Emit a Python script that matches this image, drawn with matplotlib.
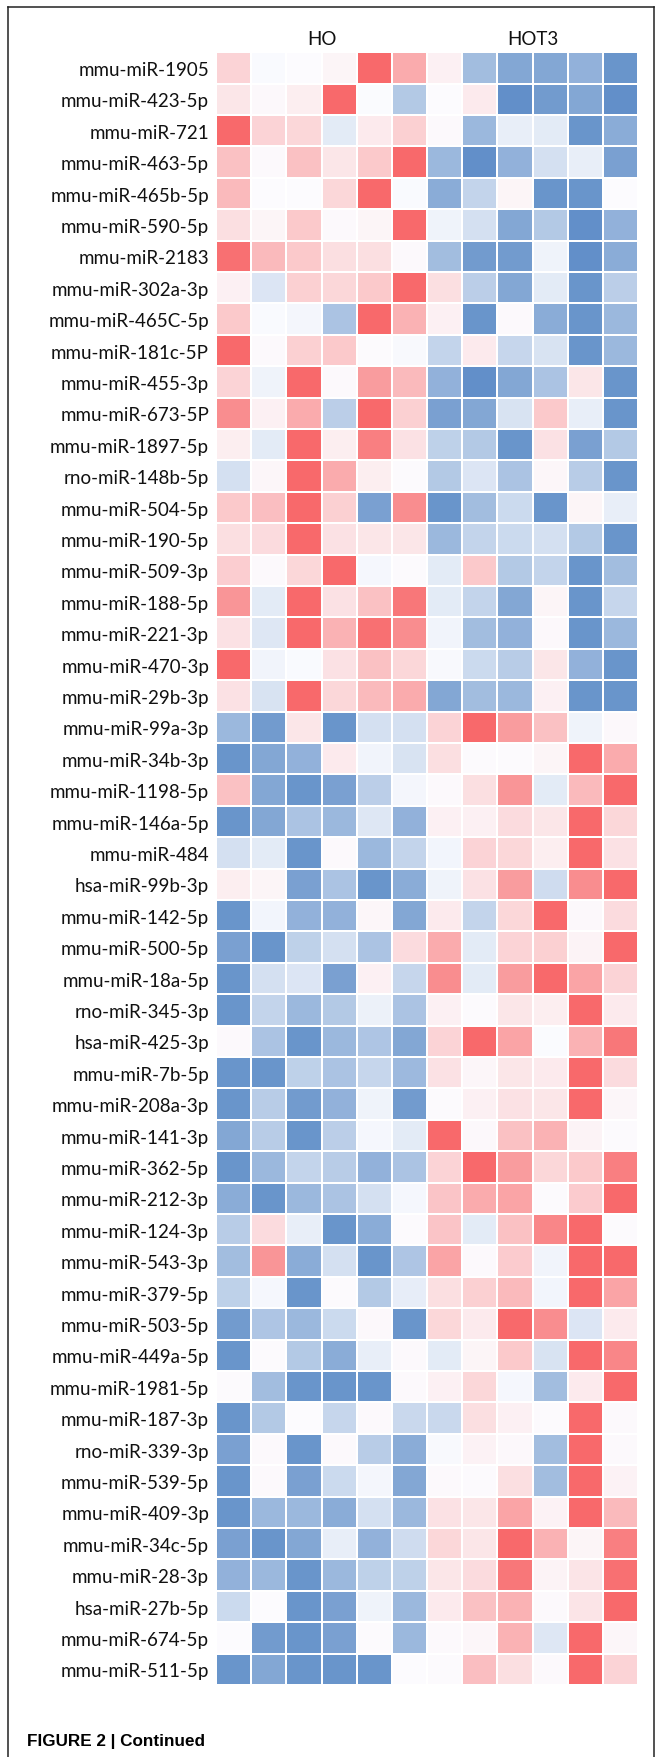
import numpy as np
import matplotlib
matplotlib.use('Agg')
import matplotlib.pyplot as plt
from matplotlib.colors import LinearSegmentedColormap
from matplotlib.lines import Line2D

mirnas = ['mmu-miR-1905', 'mmu-miR-423-5p', 'mmu-miR-721', 'mmu-miR-463-5p',
          'mmu-miR-465b-5p', 'mmu-miR-590-5p', 'mmu-miR-2183', 'mmu-miR-302a-3p',
          'mmu-miR-465C-5p', 'mmu-miR-181c-5P', 'mmu-miR-455-3p', 'mmu-miR-673-5P',
          'mmu-miR-1897-5p', 'rno-miR-148b-5p', 'mmu-miR-504-5p', 'mmu-miR-190-5p',
          'mmu-miR-509-3p', 'mmu-miR-188-5p', 'mmu-miR-221-3p', 'mmu-miR-470-3p',
          'mmu-miR-29b-3p', 'mmu-miR-99a-3p', 'mmu-miR-34b-3p', 'mmu-miR-1198-5p',
          'mmu-miR-146a-5p', 'mmu-miR-484', 'hsa-miR-99b-3p', 'mmu-miR-142-5p',
          'mmu-miR-500-5p', 'mmu-miR-18a-5p', 'rno-miR-345-3p', 'hsa-miR-425-3p',
          'mmu-miR-7b-5p', 'mmu-miR-208a-3p', 'mmu-miR-141-3p', 'mmu-miR-362-5p',
          'mmu-miR-212-3p', 'mmu-miR-124-3p', 'mmu-miR-543-3p', 'mmu-miR-379-5p',
          'mmu-miR-503-5p', 'mmu-miR-449a-5p', 'mmu-miR-1981-5p', 'mmu-miR-187-3p',
          'rno-miR-339-3p', 'mmu-miR-539-5p', 'mmu-miR-409-3p', 'mmu-miR-34c-5p',
          'mmu-miR-28-3p', 'hsa-miR-27b-5p', 'mmu-miR-674-5p', 'mmu-miR-511-5p']

groups = ['HO', 'HOT3']

# relative expression, red > 0 > blue
ho = [
    [0.28, -0.02, 0, 0.05, 1.0, 0.55],
    [0.15, 0.03, 0.1, 1.0, -0.01, -0.45],
    [1.0, 0.28, 0.25, -0.15, 0.12, 0.3],
    [0.4, 0.02, 0.4, 0.15, 0.35, 1.0],
    [0.45, 0, 0, 0.25, 1.0, -0.02],
    [0.2, 0.05, 0.35, 0.02, 0.05, 1.0],
    [0.95, 0.45, 0.35, 0.2, 0.2, 0.02],
    [0.08, -0.2, 0.3, 0.25, 0.35, 1.0],
    [0.35, -0.02, -0.05, -0.5, 1.0, 0.5],
    [1.0, 0.02, 0.3, 0.35, 0.01, -0.03],
    [0.28, -0.08, 1.0, 0.02, 0.65, 0.45],
    [0.75, 0.08, 0.55, -0.4, 1.0, 0.3],
    [0.1, -0.15, 1.0, 0.1, 0.85, 0.18],
    [-0.25, 0.04, 1.0, 0.55, 0.1, 0.01],
    [0.35, 0.42, 1.0, 0.3, -0.8, 0.75],
    [0.2, 0.22, 1.0, 0.18, 0.15, 0.15],
    [0.32, 0.02, 0.25, 1.0, -0.04, 0.01],
    [0.7, -0.15, 1.0, 0.18, 0.4, 0.9],
    [0.18, -0.18, 1.0, 0.5, 0.95, 0.75],
    [1.0, -0.07, -0.02, 0.18, 0.4, 0.25],
    [0.18, -0.22, 1.0, 0.25, 0.45, 0.55],
    [-0.6, -0.85, 0.15, -0.9, -0.25, -0.25],
    [-0.9, -0.75, -0.65, 0.12, -0.07, -0.22],
    [0.4, -0.75, -0.9, -0.8, -0.4, -0.05],
    [-0.9, -0.75, -0.5, -0.6, -0.18, -0.65],
    [-0.25, -0.15, -0.9, 0.02, -0.6, -0.35],
    [0.1, 0.05, -0.8, -0.5, -0.9, -0.7],
    [-0.9, -0.06, -0.65, -0.65, 0.04, -0.75],
    [-0.8, -0.9, -0.38, -0.25, -0.5, 0.22],
    [-0.9, -0.25, -0.2, -0.8, 0.08, -0.33],
    [-0.9, -0.35, -0.6, -0.45, -0.1, -0.5],
    [0.02, -0.5, -0.9, -0.6, -0.48, -0.75],
    [-0.9, -0.9, -0.38, -0.5, -0.33, -0.58],
    [-0.9, -0.42, -0.85, -0.65, -0.08, -0.85],
    [-0.75, -0.42, -0.9, -0.4, -0.04, -0.15],
    [-0.9, -0.6, -0.35, -0.42, -0.65, -0.5],
    [-0.7, -0.9, -0.6, -0.5, -0.25, -0.04],
    [-0.42, 0.22, -0.12, -0.9, -0.7, 0.01],
    [-0.55, 0.7, -0.7, -0.25, -0.9, -0.48],
    [-0.38, -0.04, -0.9, 0.01, -0.45, -0.13],
    [-0.85, -0.48, -0.6, -0.3, 0.03, -0.9],
    [-0.9, 0.01, -0.45, -0.7, -0.12, 0.02],
    [0.01, -0.55, -0.9, -0.9, -0.9, 0.02],
    [-0.9, -0.45, 0, -0.33, 0.02, -0.32],
    [-0.8, 0.02, -0.9, 0.02, -0.42, -0.7],
    [-0.9, 0.02, -0.8, -0.3, -0.05, -0.75],
    [-0.9, -0.6, -0.6, -0.7, -0.25, -0.6],
    [-0.8, -0.9, -0.75, -0.12, -0.65, -0.28],
    [-0.65, -0.6, -0.9, -0.6, -0.38, -0.38],
    [-0.3, 0, -0.9, -0.8, -0.08, -0.6],
    [0, -0.85, -0.9, -0.8, 0.01, -0.6],
    [-0.9, -0.75, -0.9, -0.9, -0.9, 0],
]

hot3 = [
    [0.08, -0.55, -0.75, -0.75, -0.65, -0.9],
    [0, 0.12, -0.95, -0.85, -0.75, -0.95],
    [0.02, -0.6, -0.12, -0.15, -0.9, -0.7],
    [-0.6, -0.95, -0.65, -0.25, -0.12, -0.8],
    [-0.7, -0.35, 0.05, -0.9, -0.9, 0],
    [-0.08, -0.25, -0.75, -0.45, -0.95, -0.65],
    [-0.55, -0.85, -0.85, -0.08, -0.95, -0.7],
    [0.2, -0.4, -0.75, -0.15, -0.9, -0.4],
    [0.08, -0.9, 0.02, -0.7, -0.9, -0.6],
    [-0.35, 0.12, -0.33, -0.22, -0.9, -0.6],
    [-0.65, -0.95, -0.75, -0.5, 0.15, -0.9],
    [-0.8, -0.75, -0.22, 0.35, -0.12, -0.9],
    [-0.38, -0.45, -0.9, 0.18, -0.8, -0.45],
    [-0.45, -0.2, -0.5, 0.04, -0.42, -0.9],
    [-0.9, -0.55, -0.3, -0.9, 0.05, -0.12],
    [-0.6, -0.35, -0.3, -0.25, -0.45, -0.9],
    [-0.15, 0.35, -0.45, -0.35, -0.9, -0.55],
    [-0.15, -0.35, -0.75, 0.05, -0.9, -0.33],
    [-0.07, -0.55, -0.65, 0.03, -0.9, -0.6],
    [-0.03, -0.3, -0.42, 0.15, -0.65, -0.9],
    [-0.75, -0.55, -0.6, 0.08, -0.9, -0.9],
    [0.28, 1.0, 0.65, 0.4, -0.08, 0.03],
    [0.2, 0.01, 0.01, 0.05, 1.0, 0.55],
    [0.02, 0.2, 0.7, -0.15, 0.45, 1.0],
    [0.08, 0.08, 0.22, 0.15, 1.0, 0.25],
    [-0.06, 0.28, 0.25, 0.1, 1.0, 0.18],
    [-0.08, 0.18, 0.65, -0.28, 0.75, 1.0],
    [0.12, -0.35, 0.25, 1.0, 0.03, 0.22],
    [0.55, -0.15, 0.28, 0.3, 0.06, 1.0],
    [0.75, -0.15, 0.65, 1.0, 0.6, 0.28],
    [0.08, 0.01, 0.15, 0.1, 1.0, 0.12],
    [0.28, 1.0, 0.6, -0.01, 0.5, 0.9],
    [0.18, 0.04, 0.15, 0.12, 1.0, 0.22],
    [0.01, 0.08, 0.18, 0.15, 1.0, 0.04],
    [1.0, 0.03, 0.4, 0.5, 0.06, 0.01],
    [0.28, 1.0, 0.65, 0.25, 0.35, 0.85],
    [0.38, 0.55, 0.6, 0.01, 0.33, 1.0],
    [0.38, -0.15, 0.4, 0.8, 1.0, 0.01],
    [0.6, 0.02, 0.33, -0.07, 1.0, 1.0],
    [0.2, 0.3, 0.45, -0.06, 1.0, 0.6],
    [0.25, 0.12, 1.0, 0.75, -0.2, 0.12],
    [-0.15, 0.05, 0.35, -0.22, 1.0, 0.8],
    [0.08, 0.25, -0.04, -0.55, 0.12, 1.0],
    [-0.32, 0.2, 0.08, 0.01, 1.0, 0.02],
    [-0.03, 0.07, 0.03, -0.55, 1.0, 0.02],
    [0.02, 0.01, 0.2, -0.55, 1.0, 0.07],
    [0.18, 0.15, 0.6, 0.07, 1.0, 0.45],
    [0.25, 0.15, 1.0, 0.5, 0.05, 0.85],
    [0.15, 0.22, 0.9, 0.06, 0.16, 0.95],
    [0.12, 0.4, 0.5, 0.02, 0.16, 1.0],
    [0.02, 0.04, 0.5, -0.18, 1.0, 0.04],
    [0.01, 0.42, 0.2, 0.02, 1.0, 0.28],
]

data = np.hstack([np.array(ho), np.array(hot3)])
nrow, ncol = data.shape

cmap = LinearSegmentedColormap.from_list('excel', ['#5A8AC6', '#FCFCFF', '#F8696B'])

W, H = 656, 1758
fig = plt.figure(figsize=(W / 100, H / 100), dpi=100)
x0, x1 = 216, 638
y0, y1 = 53.3, 1686
ax = fig.add_axes([x0 / W, 1 - y1 / H, (x1 - x0) / W, (y1 - y0) / H])
ax.pcolormesh(data, cmap=cmap, vmin=-1, vmax=1, edgecolors='white', linewidth=1.4)
ax.set_xlim(0, ncol)
ax.set_ylim(nrow, 0)
for s in ax.spines.values():
    s.set_visible(False)
ax.set_xticks([])
ax.set_yticks(np.arange(nrow) + 0.5)
ax.set_yticklabels(mirnas, fontsize=13.5, family='Lato', color='#111111')
ax.tick_params(axis='y', length=0, pad=5)

for i, g in enumerate(groups):
    ax.text(3 + 6 * i, -0.27, g, ha='center', va='baseline', fontsize=13.5,
            family='Lato', color='#111111')

fig.text(27 / W, 1 - 1746 / H, 'FIGURE 2 | Continued', fontsize=12.3,
         fontweight='bold', family='Liberation Sans', ha='left', va='baseline')

# frame round the panel
lw = 1.1
fig.add_artist(Line2D([7.5 / W, 7.5 / W], [0, 1 - 7.5 / H], transform=fig.transFigure, color='#222222', lw=lw))
fig.add_artist(Line2D([7.5 / W, 654 / W], [1 - 7.5 / H, 1 - 7.5 / H], transform=fig.transFigure, color='#222222', lw=lw))
fig.add_artist(Line2D([654 / W, 654 / W], [0, 1 - 7.5 / H], transform=fig.transFigure, color='#222222', lw=lw))

fig.savefig('out.png', dpi=100)
